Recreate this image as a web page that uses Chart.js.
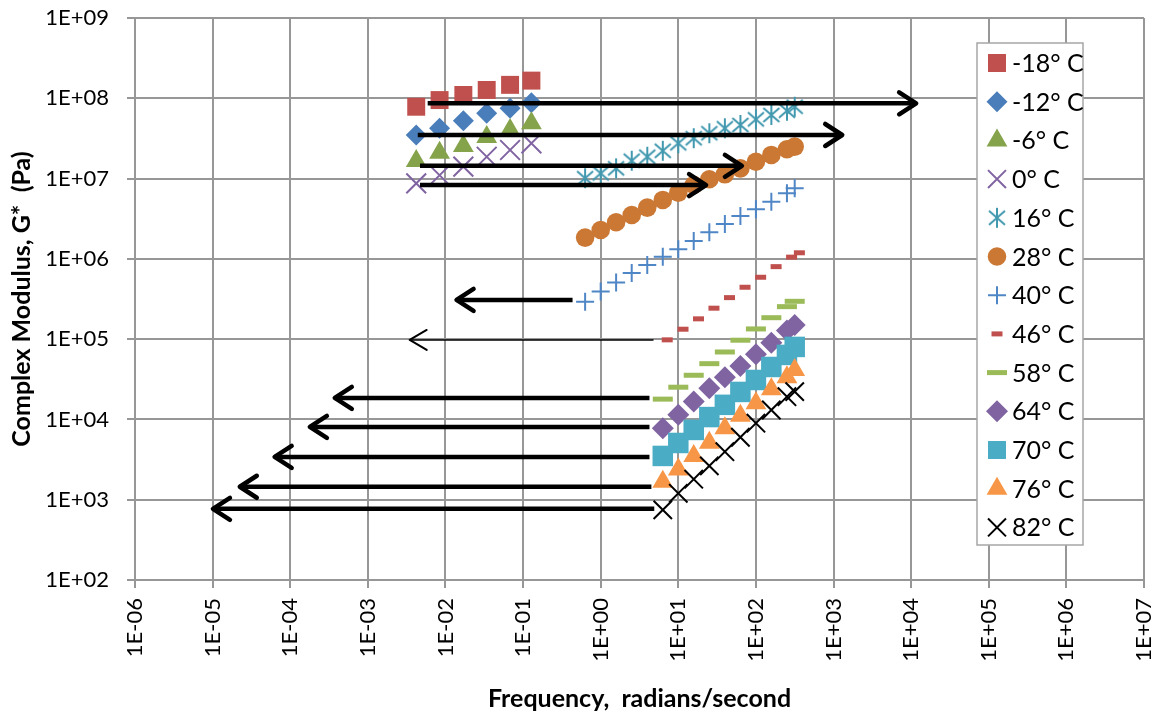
<!DOCTYPE html>
<html>
<head>
<meta charset="utf-8">
<script src="https://cdn.jsdelivr.net/npm/chart.js@4.4.1/dist/chart.umd.min.js"></script>
<style>
  html, body { margin: 0; padding: 0; background: #fff; }
</style>
</head>
<body>
<canvas id="chart" width="1160" height="719"></canvas>
<script>
// axis ticks
const xTicks = [1e-6, 1e-5, 1e-4, 1e-3, 1e-2, 1e-1, 1e0, 1e1, 1e2, 1e3, 1e4, 1e5, 1e6, 1e7]
const xTickLabels = ['1E-06', '1E-05', '1E-04', '1E-03', '1E-02', '1E-01', '1E+00', '1E+01', '1E+02', '1E+03', '1E+04', '1E+05', '1E+06', '1E+07']
const yTicks = [1e2, 1e3, 1e4, 1e5, 1e6, 1e7, 1e8, 1e9]
const yTickLabels = ['1E+02', '1E+03', '1E+04', '1E+05', '1E+06', '1E+07', '1E+08', '1E+09']

const seriesLabels = ['-18° C', '-12° C', '-6° C', '0° C', '16° C', '28° C', '40° C', '46° C', '58° C', '64° C', '70° C', '76° C', '82° C']

// frequencies, rad/s
const lowFreq = [0.0042, 0.0084, 0.017, 0.034, 0.068, 0.128]
const midFreq = [0.63, 1.0, 1.58, 2.51, 3.98, 6.31, 10, 15.8, 25.1, 39.8, 63.1, 100, 158, 251, 316]
const highFreq = [6.31, 10, 15.8, 25.1, 39.8, 63.1, 100, 158, 251, 316]
const freq46 = [7.2, 11.5, 18.2, 28.8, 45.7, 72.4, 115, 182, 288, 363]

// complex modulus G*, Pa
const gM18 = [7.85e7, 9.5e7, 1.1e8, 1.27e8, 1.47e8, 1.66e8]
const gM12 = [3.49e7, 4.23e7, 5.26e7, 6.5e7, 7.5e7, 8.8e7]
const gM6 = [1.66e7, 2.1e7, 2.55e7, 3.3e7, 4.03e7, 4.9e7]
const g0 = [8.7e6, 1.1e7, 1.41e7, 1.87e7, 2.27e7, 2.75e7]
const g16 = [1.01e7, 1.16e7, 1.34e7, 1.67e7, 1.87e7, 2.22e7, 2.75e7, 3.18e7, 3.67e7, 4.23e7, 4.65e7, 5.47e7, 6.2e7, 7.0e7, 7.85e7]
const g28 = [1.84e6, 2.29e6, 2.86e6, 3.52e6, 4.35e6, 5.42e6, 6.67e6, 8.32e6, 9.8e6, 1.13e7, 1.34e7, 1.62e7, 1.97e7, 2.32e7, 2.5e7]
const g40 = [2.93e5, 3.91e5, 5.06e5, 6.67e5, 8.4e5, 1.06e6, 1.32e6, 1.67e6, 2.14e6, 2.72e6, 3.42e6, 4.15e6, 5.16e6, 6.56e6, 7.57e6]
const g46 = [9.8e4, 1.33e5, 1.79e5, 2.43e5, 3.29e5, 4.43e5, 5.9e5, 8.0e5, 1.05e6, 1.19e6]
const g58 = [1.79e4, 2.52e4, 3.55e4, 4.95e4, 6.92e4, 9.7e4, 1.34e5, 1.85e5, 2.54e5, 2.96e5]
const g64 = [7.76e3, 1.14e4, 1.67e4, 2.45e4, 3.35e4, 4.64e4, 6.48e4, 9.0e4, 1.28e5, 1.5e5]
const g70 = [3.51e3, 5.09e3, 7.4e3, 1.07e4, 1.52e4, 2.2e4, 3.1e4, 4.5e4, 6.36e4, 8.0e4]
const g76 = [1.67e3, 2.38e3, 3.51e3, 5.14e3, 7.76e3, 1.11e4, 1.59e4, 2.37e4, 3.36e4, 4.13e4]
const g82 = [747, 1.2e3, 1.8e3, 2.64e3, 3.97e3, 6.0e3, 8.99e3, 1.31e4, 1.92e4, 2.22e4]

// shift arrows: from frequency, to frequency, at G*
const arrowFrom = [0.0059, 0.0044, 0.0047, 0.0047, 0.434, 4.79, 4.25, 4.25, 4.25, 4.5, 4.9]
const arrowTo = [1.16e4, 1294, 66, 22.8, 0.0139, 0.00346, 3.75e-4, 1.79e-4, 6.3e-5, 2.24e-5, 1.01e-5]
const arrowG = [8.66e7, 3.49e7, 1.44e7, 8.3e6, 3.08e5, 9.77e4, 1.85e4, 8.07e3, 3.41e3, 1.45e3, 769]

// asterisk marker (Excel "star")
function starMarker(color) {
    const c = document.createElement('canvas')
    c.width = 22
    c.height = 22
    const g = c.getContext('2d')
    g.strokeStyle = color
    g.lineWidth = 2
    g.beginPath()
    g.moveTo(3, 4); g.lineTo(19, 18)
    g.moveTo(19, 4); g.lineTo(3, 18)
    g.moveTo(11, 1); g.lineTo(11, 21)
    g.stroke()
    return c
}

const seriesX = [lowFreq, lowFreq, lowFreq, lowFreq, midFreq, midFreq, midFreq, freq46, highFreq, highFreq, highFreq, highFreq, highFreq]
const seriesY = [gM18, gM12, gM6, g0, g16, g28, g40, g46, g58, g64, g70, g76, g82]
const markers = [
    { style: 'rect', color: '#C0504D', r: 12.7, bw: 0 },
    { style: 'rectRot', color: '#4A7EBB', r: 10.5, bw: 0 },
    { style: 'triangle', color: '#84A34B', r: 12, bw: 0 },
    { style: 'crossRot', color: '#8064A2', r: 14, bw: 2 },
    { style: starMarker('#4198AF'), color: '#4198AF', r: 11, bw: 0 },
    { style: 'circle', color: '#CB7835', r: 9.3, bw: 0 },
    { style: 'cross', color: '#4F86C6', r: 9, bw: 2 },
    { style: 'line', color: '#C0504D', r: 5.5, bw: 5 },
    { style: 'line', color: '#9BBB59', r: 10, bw: 5 },
    { style: 'rectRot', color: '#8064A2', r: 11, bw: 0 },
    { style: 'rect', color: '#4BACC6', r: 14.5, bw: 0 },
    { style: 'triangle', color: '#F79646', r: 12, bw: 0 },
    { style: 'crossRot', color: '#000000', r: 13, bw: 2 },
]

const datasets = []

arrowG.forEach((g, i) => {
    datasets.push({
        isArrow: true,
        data: [{ x: arrowFrom[i], y: g }, { x: arrowTo[i], y: g }],
        showLine: true,
        borderColor: '#000',
        borderWidth: i === 5 ? 1.5 : 4.5,
        pointRadius: 0,
        order: 0,
    })
})

seriesLabels.forEach((label, i) => {
    const m = markers[i]
    datasets.push({
        label: label,
        data: seriesX[i].map((x, k) => ({ x: x, y: seriesY[i][k] })),
        pointStyle: m.style,
        pointRadius: m.r,
        pointBorderWidth: m.bw,
        backgroundColor: m.color,
        borderColor: m.color,
        showLine: false,
        order: 100 - i,
    })
})

const arrowHeads = {
    id: 'arrowHeads',
    afterDatasetsDraw(chart) {
        const ctx = chart.ctx
        chart.data.datasets.forEach((ds, i) => {
            if (!ds.isArrow) return
            const pts = chart.getDatasetMeta(i).data
            const a = pts[0], b = pts[1]
            const dir = Math.sign(b.x - a.x)
            const thin = ds.borderWidth < 2
            const len = 17
            const half = thin ? 10 : 11
            ctx.save()
            ctx.strokeStyle = '#000'
            ctx.lineWidth = thin ? 2 : 4.5
            ctx.lineCap = 'round'
            ctx.lineJoin = 'round'
            ctx.beginPath()
            ctx.moveTo(b.x - dir * len, b.y - half)
            ctx.lineTo(b.x, b.y)
            ctx.lineTo(b.x - dir * len, b.y + half)
            ctx.stroke()
            ctx.restore()
        })
    }
}

const boxLegend = {
    id: 'boxLegend',
    afterDraw(chart) {
        const ctx = chart.ctx
        const left = 977, top = 43, w = 106, h = 502
        ctx.save()
        ctx.fillStyle = '#fff'
        ctx.strokeStyle = '#a6a6a6'
        ctx.lineWidth = 1.5
        ctx.fillRect(left, top, w, h)
        ctx.strokeRect(left, top, w, h)
        ctx.font = '25px Lato'
        ctx.textBaseline = 'middle'
        ctx.textAlign = 'left'
        let row = 0
        chart.data.datasets.forEach(ds => {
            if (ds.isArrow) return
            const y = 63 + row * 38.7
            ctx.fillStyle = ds.backgroundColor
            ctx.strokeStyle = ds.borderColor
            ctx.lineWidth = ds.pointBorderWidth
            Chart.helpers.drawPoint(ctx, {
                pointStyle: ds.pointStyle,
                radius: Math.min(ds.pointRadius, 12.7),
                borderWidth: ds.pointBorderWidth,
                rotation: 0,
            }, 997, y)
            ctx.fillStyle = '#000'
            ctx.fillText(ds.label, 1012, y + 1)
            row++
        })
        ctx.restore()
    }
}

const gridColor = '#979797'

new Chart(document.getElementById('chart'), {
    type: 'scatter',
    data: { datasets: datasets },
    plugins: [arrowHeads, boxLegend],
    options: {
        responsive: false,
        animation: false,
        events: [],
        layout: { padding: 0 },
        font: { family: 'Lato', size: 22 },
        plugins: {
            legend: { display: false },
            tooltip: { enabled: false },
        },
        scales: {
            x: {
                type: 'logarithmic',
                min: 1e-6,
                max: 1e7,
                afterBuildTicks: scale => { scale.ticks = xTicks.map(v => ({ value: v })) },
                afterFit: scale => {
                    scale.height = 139
                    scale.paddingLeft = 0
                    scale.paddingRight = 15
                },
                ticks: {
                    autoSkip: false,
                    minRotation: 90,
                    maxRotation: 90,
                    padding: 10,
                    color: '#000',
                    font: { family: 'Lato', size: 22 },
                    callback: (v, i) => xTickLabels[i],
                },
                grid: { color: gridColor, lineWidth: 2, tickLength: 8, tickColor: gridColor },
                border: { color: gridColor, width: 2 },
                title: {
                    display: true,
                    text: 'Frequency,  radians/second',
                    color: '#000',
                    font: { family: 'Lato', size: 25, weight: 'bold' },
                    padding: { top: 0, bottom: 5 },
                },
            },
            y: {
                type: 'logarithmic',
                min: 1e2,
                max: 1e9,
                afterBuildTicks: scale => { scale.ticks = yTicks.map(v => ({ value: v })) },
                afterFit: scale => {
                    scale.width = 135
                    scale.paddingTop = 18
                    scale.paddingBottom = 0
                },
                ticks: {
                    padding: 18,
                    color: '#000',
                    font: { family: 'Lato', size: 22 },
                    callback: (v, i) => yTickLabels[i],
                },
                grid: { color: gridColor, lineWidth: 2, tickLength: 8, tickColor: gridColor },
                border: { color: gridColor, width: 2 },
                title: {
                    display: true,
                    text: 'Complex Modulus, G*  (Pa)',
                    color: '#000',
                    font: { family: 'Lato', size: 25, weight: 'bold' },
                    padding: { top: 7, bottom: 0 },
                },
            },
        },
    },
})
</script>
</body>
</html>
